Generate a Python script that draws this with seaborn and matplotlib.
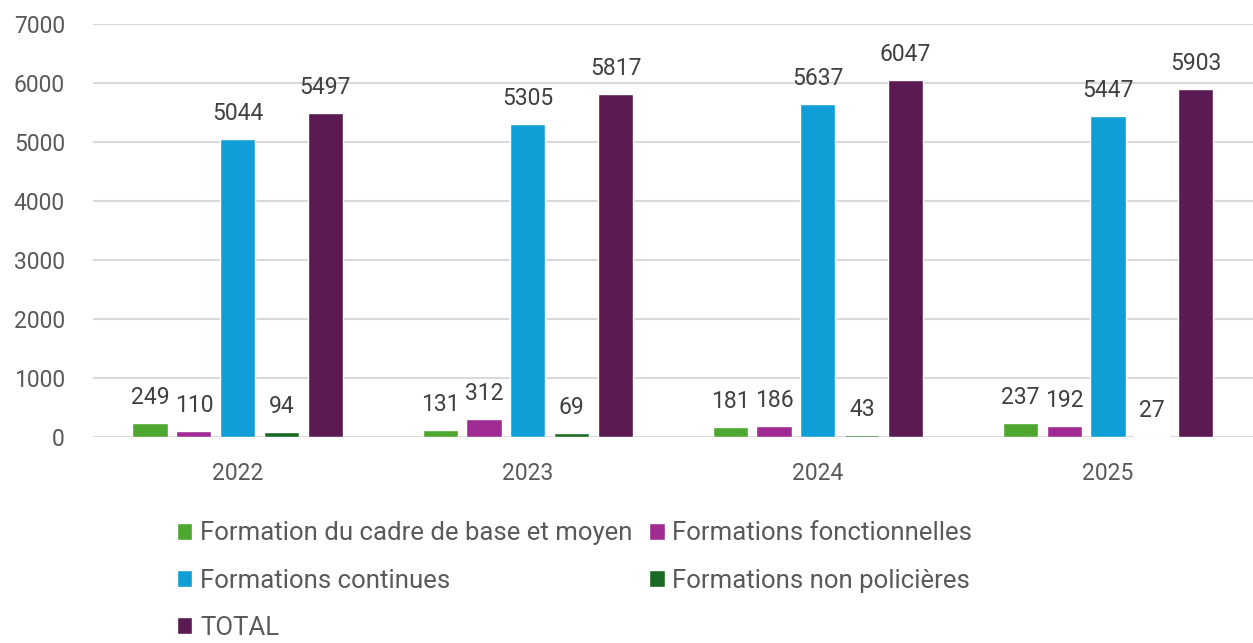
import matplotlib
matplotlib.use("Agg")
import matplotlib.pyplot as plt
import seaborn as sns
import pandas as pd

years = ["2022", "2023", "2024", "2025"]
series = ["Formation du cadre de base et moyen", "Formations fonctionnelles",
          "Formations continues", "Formations non policières", "TOTAL"]
cadre = [249, 131, 181, 237]
fonctionnelles = [110, 312, 186, 192]
continues = [5044, 5305, 5637, 5447]
non_policieres = [94, 69, 43, 27]
total = [5497, 5817, 6047, 5903]
colors = ["#4ea72e", "#a02b93", "#0f9ed5", "#196b24", "#5c1a52"]

values = [cadre, fonctionnelles, continues, non_policieres, total]
rows = []
for s, vals in zip(series, values):
    for y, v in zip(years, vals):
        rows.append({"Année": y, "Série": s, "Valeur": v})
df = pd.DataFrame(rows)

sns.set_theme(style="white")
plt.rcParams["font.family"] = ["Roboto", "DejaVu Sans"]

fig = plt.figure(figsize=(12.53, 6.43), dpi=100)
ax = fig.add_axes([0.074, 0.32, 0.926, 0.643])

sns.barplot(data=df, x="Année", y="Valeur", hue="Série", hue_order=series,
            order=years, palette=colors, width=0.756, gap=0.2, ax=ax,
            saturation=1, legend=True, errorbar=None)

for cont in ax.containers:
    ax.bar_label(cont, fmt="%d", padding=10, fontsize=16.5, color="#404040")

ax.set_ylim(0, 7000)
ax.set_yticks(range(0, 7001, 1000))
ax.set_xlim(-0.5, 3.5)
ax.grid(axis="y", color="#d9d9d9", linewidth=1.5)
ax.set_axisbelow(True)
for sp in ax.spines.values():
    sp.set_visible(False)
ax.set_xlabel("")
ax.set_ylabel("")
ax.tick_params(axis="both", labelsize=16.5, labelcolor="#595959", length=0)
ax.tick_params(axis="x", pad=18)
ax.tick_params(axis="y", pad=20)

handles, labels = ax.get_legend_handles_labels()
ax.get_legend().remove()
order = [0, 2, 4, 1, 3]
fig.legend([handles[i] for i in order], [labels[i] for i in order],
           loc="upper left", bbox_to_anchor=(0.131, 0.209), ncol=2,
           frameon=False, fontsize=18.5, labelcolor="#595959",
           handlelength=0.6, handleheight=0.6, handletextpad=0.3,
           columnspacing=0.65, labelspacing=0.9, borderpad=0)

fig.savefig("out.png", dpi=100, facecolor="white")
